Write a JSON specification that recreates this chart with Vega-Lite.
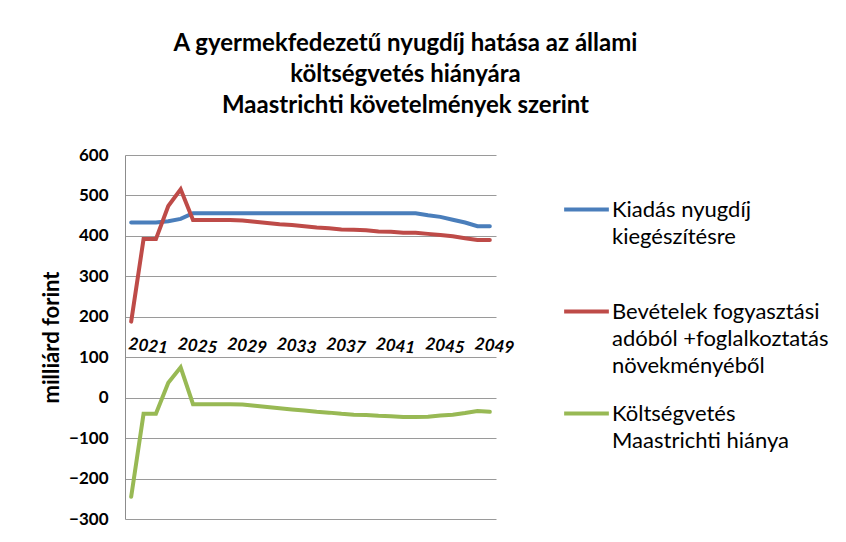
{
  "$schema": "https://vega.github.io/schema/vega-lite/v6.json",
  "width": 371,
  "height": 364,
  "autosize": {"type": "none"},
  "padding": {"left": 125, "top": 155, "right": 350, "bottom": 23},
  "background": "white",
  "title": {
    "text": ["A gyermekfedezetű nyugdíj hatása az állami", "költségvetés hiányára", "Maastrichti követelmények szerint"],
    "font": "Lato",
    "fontSize": 24,
    "fontWeight": "bold",
    "color": "#000000",
    "anchor": "middle",
    "frame": "group",
    "dx": 95,
    "offset": 28,
    "lineHeight": 31
  },
  "data": {
    "values": [
      {"year": "2020", "series": "Kiadás", "value": 433},
      {"year": "2021", "series": "Kiadás", "value": 433},
      {"year": "2022", "series": "Kiadás", "value": 433},
      {"year": "2023", "series": "Kiadás", "value": 436},
      {"year": "2024", "series": "Kiadás", "value": 442},
      {"year": "2025", "series": "Kiadás", "value": 456},
      {"year": "2026", "series": "Kiadás", "value": 456},
      {"year": "2027", "series": "Kiadás", "value": 456},
      {"year": "2028", "series": "Kiadás", "value": 456},
      {"year": "2029", "series": "Kiadás", "value": 456},
      {"year": "2030", "series": "Kiadás", "value": 456},
      {"year": "2031", "series": "Kiadás", "value": 456},
      {"year": "2032", "series": "Kiadás", "value": 456},
      {"year": "2033", "series": "Kiadás", "value": 456},
      {"year": "2034", "series": "Kiadás", "value": 456},
      {"year": "2035", "series": "Kiadás", "value": 456},
      {"year": "2036", "series": "Kiadás", "value": 456},
      {"year": "2037", "series": "Kiadás", "value": 456},
      {"year": "2038", "series": "Kiadás", "value": 456},
      {"year": "2039", "series": "Kiadás", "value": 456},
      {"year": "2040", "series": "Kiadás", "value": 456},
      {"year": "2041", "series": "Kiadás", "value": 456},
      {"year": "2042", "series": "Kiadás", "value": 456},
      {"year": "2043", "series": "Kiadás", "value": 456},
      {"year": "2044", "series": "Kiadás", "value": 451},
      {"year": "2045", "series": "Kiadás", "value": 447},
      {"year": "2046", "series": "Kiadás", "value": 440},
      {"year": "2047", "series": "Kiadás", "value": 433},
      {"year": "2048", "series": "Kiadás", "value": 424},
      {"year": "2049", "series": "Kiadás", "value": 424},
      {"year": "2020", "series": "Bevételek", "value": 188},
      {"year": "2021", "series": "Bevételek", "value": 392},
      {"year": "2022", "series": "Bevételek", "value": 392},
      {"year": "2023", "series": "Bevételek", "value": 474},
      {"year": "2024", "series": "Bevételek", "value": 515},
      {"year": "2025", "series": "Bevételek", "value": 439},
      {"year": "2026", "series": "Bevételek", "value": 439},
      {"year": "2027", "series": "Bevételek", "value": 439},
      {"year": "2028", "series": "Bevételek", "value": 439},
      {"year": "2029", "series": "Bevételek", "value": 438},
      {"year": "2030", "series": "Bevételek", "value": 435},
      {"year": "2031", "series": "Bevételek", "value": 432},
      {"year": "2032", "series": "Bevételek", "value": 429},
      {"year": "2033", "series": "Bevételek", "value": 427},
      {"year": "2034", "series": "Bevételek", "value": 424},
      {"year": "2035", "series": "Bevételek", "value": 421},
      {"year": "2036", "series": "Bevételek", "value": 419},
      {"year": "2037", "series": "Bevételek", "value": 416},
      {"year": "2038", "series": "Bevételek", "value": 415},
      {"year": "2039", "series": "Bevételek", "value": 414},
      {"year": "2040", "series": "Bevételek", "value": 411},
      {"year": "2041", "series": "Bevételek", "value": 410},
      {"year": "2042", "series": "Bevételek", "value": 408},
      {"year": "2043", "series": "Bevételek", "value": 408},
      {"year": "2044", "series": "Bevételek", "value": 405},
      {"year": "2045", "series": "Bevételek", "value": 402},
      {"year": "2046", "series": "Bevételek", "value": 399},
      {"year": "2047", "series": "Bevételek", "value": 394},
      {"year": "2048", "series": "Bevételek", "value": 390},
      {"year": "2049", "series": "Bevételek", "value": 390},
      {"year": "2020", "series": "Költségvetés", "value": -245},
      {"year": "2021", "series": "Költségvetés", "value": -40},
      {"year": "2022", "series": "Költségvetés", "value": -40},
      {"year": "2023", "series": "Költségvetés", "value": 37},
      {"year": "2024", "series": "Költségvetés", "value": 75},
      {"year": "2025", "series": "Költségvetés", "value": -16},
      {"year": "2026", "series": "Költségvetés", "value": -16},
      {"year": "2027", "series": "Költségvetés", "value": -16},
      {"year": "2028", "series": "Költségvetés", "value": -16},
      {"year": "2029", "series": "Költségvetés", "value": -17},
      {"year": "2030", "series": "Költségvetés", "value": -20},
      {"year": "2031", "series": "Költségvetés", "value": -23},
      {"year": "2032", "series": "Költségvetés", "value": -26},
      {"year": "2033", "series": "Költségvetés", "value": -29},
      {"year": "2034", "series": "Költségvetés", "value": -32},
      {"year": "2035", "series": "Költségvetés", "value": -35},
      {"year": "2036", "series": "Költségvetés", "value": -37},
      {"year": "2037", "series": "Költségvetés", "value": -40},
      {"year": "2038", "series": "Költségvetés", "value": -42},
      {"year": "2039", "series": "Költségvetés", "value": -43},
      {"year": "2040", "series": "Költségvetés", "value": -45},
      {"year": "2041", "series": "Költségvetés", "value": -46},
      {"year": "2042", "series": "Költségvetés", "value": -48},
      {"year": "2043", "series": "Költségvetés", "value": -48},
      {"year": "2044", "series": "Költségvetés", "value": -47},
      {"year": "2045", "series": "Költségvetés", "value": -44},
      {"year": "2046", "series": "Költségvetés", "value": -42},
      {"year": "2047", "series": "Költségvetés", "value": -38},
      {"year": "2048", "series": "Költségvetés", "value": -33},
      {"year": "2049", "series": "Költségvetés", "value": -35}
    ]
  },
  "mark": {"type": "line", "strokeWidth": 4, "strokeCap": "round", "strokeJoin": "miter"},
  "encoding": {
    "x": {
      "field": "year",
      "type": "ordinal",
      "scale": {"paddingOuter": 0.5, "paddingInner": 0},
      "axis": {
        "title": null,
        "values": ["2021", "2025", "2029", "2033", "2037", "2041", "2045", "2049"],
        "domain": false,
        "ticks": false,
        "grid": false,
        "offset": -182,
        "labelAngle": 6,
        "labelAlign": "center",
        "labelBaseline": "top",
        "labelOffset": 5,
        "labelPadding": 1,
        "labelFont": "Lato",
        "labelFontSize": 17,
        "labelFontWeight": "bold",
        "labelFontStyle": "italic",
        "labelColor": "#000000"
      }
    },
    "y": {
      "field": "value",
      "type": "quantitative",
      "scale": {"domain": [-300, 600], "nice": false},
      "axis": {
        "title": "milliárd forint",
        "titleFont": "Lato",
        "titleFontSize": 22,
        "titleFontWeight": "bold",
        "titleColor": "#000000",
        "titlePadding": 5,
        "values": [-300, -200, -100, 0, 100, 200, 300, 400, 500, 600],
        "tickCount": 10,
        "ticks": false,
        "labelPadding": 17,
        "labelFont": "Lato",
        "labelFontSize": 17,
        "labelFontWeight": "bold",
        "labelColor": "#000000",
        "domain": true,
        "domainColor": "#8c8c8c",
        "domainWidth": 1,
        "grid": true,
        "gridColor": "#9a9a9a",
        "gridWidth": 1
      }
    },
    "color": {
      "field": "series",
      "type": "nominal",
      "sort": ["Kiadás", "Bevételek", "Költségvetés"],
      "scale": {"domain": ["Kiadás", "Bevételek", "Költségvetés"], "range": ["#4a7ebb", "#be4b48", "#98b954"]},
      "legend": {
        "title": null,
        "orient": "none",
        "legendX": 437,
        "legendY": 30,
        "symbolType": "stroke",
        "symbolSize": 2000,
        "symbolStrokeWidth": 4,
        "symbolOffset": 0,
        "labelExpr": "datum.label == 'Kiadás' ? ['Kiadás nyugdíj', 'kiegészítésre', ''] : datum.label == 'Bevételek' ? ['Bevételek fogyasztási', 'adóból +foglalkoztatás', 'növekményéből'] : ['Költségvetés', 'Maastrichti hiánya', '']",
        "labelFont": "Lato",
        "labelFontSize": 22,
        "labelColor": "#000000",
        "labelLimit": 300,
        "labelBaseline": "middle",
        "labelOffset": 1,
        "gridAlign": "all",
        "rowPadding": 12
      }
    }
  },
  "config": {
    "view": {"stroke": null},
    "style": {"guide-label": {"lineHeight": 27}}
  }
}
